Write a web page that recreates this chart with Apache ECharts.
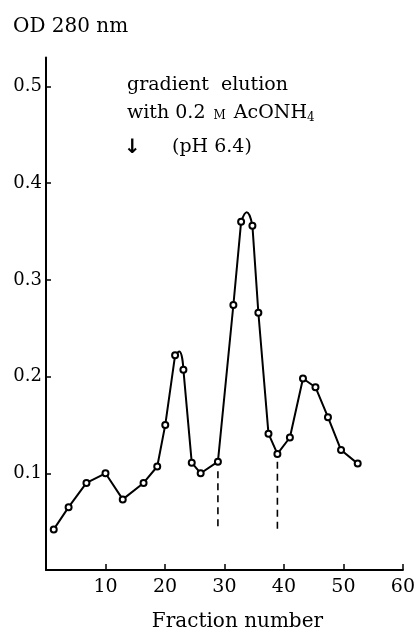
<!DOCTYPE html>
<html>
<head>
<meta charset="utf-8">
<script src="https://cdn.jsdelivr.net/npm/echarts@6/dist/echarts.min.js"></script>
<style>
  html, body { margin: 0; padding: 0; background: #fff; }
  #chart { width: 418px; height: 637px; }
</style>
</head>
<body>
<div id="chart"></div>
<script>
// 数据
var fractions = [1.3, 3.8, 6.8, 10, 12.9, 16.4, 18.7, 20.05, 21.7, 23.1, 24.5, 26, 28.9,
                 31.5, 32.8, 34.7, 35.7, 37.4, 38.9, 41, 43.2, 45.3, 47.4, 49.6, 52.4];
var od280 = [0.042, 0.065, 0.090, 0.100, 0.073, 0.090, 0.107, 0.150, 0.222, 0.207, 0.111, 0.100, 0.112,
             0.274, 0.360, 0.356, 0.266, 0.141, 0.120, 0.137, 0.198, 0.189, 0.158, 0.124, 0.110];
// 两个峰顶的圆弧（在相邻两点之间）
var peakAfter = [8, 14];        // 弧从这个点到下一个点
var peakFrac = [22.4, 33.75];
var peakOd = [0.226, 0.370];
// 分段虚线
var cutFrac = [28.9, 38.9];
var cutTop = [0.102, 0.112];
var cutBottom = 0.041;
// 刻度
var yTicks = [0.1, 0.2, 0.3, 0.4, 0.5];

var chart = echarts.init(document.getElementById('chart'));
var serif = 'DejaVu Serif';

// 主折线，峰顶处断开，由弧线补上
var mainData = [];
for (var i = 0; i < fractions.length; i++) {
    mainData.push([fractions[i], od280[i]]);
    var k = peakAfter.indexOf(i);
    if (k >= 0) mainData.push([peakFrac[k], '-']);
}

var series = [{
    type: 'line',
    data: mainData,
    symbol: 'emptyCircle',
    symbolSize: 6,
    connectNulls: false,
    lineStyle: { color: '#000', width: 2 },
    itemStyle: { color: '#000', borderColor: '#000', borderWidth: 1.4 },
    z: 3
}];
peakAfter.forEach(function (idx, k) {
    series.push({
        type: 'line',
        data: [[fractions[idx], od280[idx]], [peakFrac[k], peakOd[k]], [fractions[idx + 1], od280[idx + 1]]],
        smooth: true,
        symbol: 'none',
        lineStyle: { color: '#000', width: 2 },
        z: 2
    });
});
cutFrac.forEach(function (f, k) {
    series.push({
        type: 'line',
        data: [[f, cutTop[k]], [f, cutBottom]],
        symbol: 'none',
        lineStyle: { color: '#000', width: 1.6, type: [7, 5] },
        z: 1
    });
});

var option = {
    animation: false,
    backgroundColor: '#fff',
    title: {
        text: 'OD 280 nm',
        left: 8,
        top: 12,
        textStyle: { fontFamily: serif, fontSize: 20, fontWeight: 'normal', color: '#000' }
    },
    grid: { left: 46, right: 14, top: 57.4, bottom: 56.3 },
    xAxis: {
        type: 'value',
        min: 0,
        max: 60,
        interval: 10,
        axisLine: { lineStyle: { color: '#000', width: 2 } },
        axisTick: { inside: true, length: 6, lineStyle: { color: '#000', width: 1.5 } },
        axisLabel: { showMinLabel: false, margin: 8, fontFamily: serif, fontSize: 19, color: '#000' },
        splitLine: { show: false },
        name: 'Fraction number',
        nameLocation: 'middle',
        nameGap: 42,
        nameTextStyle: { fontFamily: serif, fontSize: 20, color: '#000', padding: [0, 0, 0, 26] }
    },
    yAxis: {
        type: 'value',
        min: 0,
        max: 0.53,
        axisLine: { show: true, lineStyle: { color: '#000', width: 2 } },
        axisTick: { inside: true, length: 5, customValues: yTicks, lineStyle: { color: '#000', width: 1.5 } },
        axisLabel: { customValues: yTicks, margin: 4, fontFamily: serif, fontSize: 18, color: '#000' },
        splitLine: { show: false }
    },
    graphic: [
        {
            type: 'text', left: 127, top: 76,
            style: { text: 'gradient  elution', font: '19px "DejaVu Serif"', fill: '#000' }
        },
        {
            type: 'text', left: 127, top: 104,
            style: {
                text: '{n|with 0.2 }{s|M}{n| AcONH}{b|4}',
                fill: '#000',
                rich: {
                    n: { fontFamily: serif, fontSize: 19, fill: '#000' },
                    s: { fontFamily: serif, fontSize: 12, fill: '#000', padding: [4, 2, 0, 2] },
                    b: { fontFamily: serif, fontSize: 12, fill: '#000', padding: [9, 0, 0, 0] }
                }
            }
        },
        {
            type: 'text', left: 124, top: 138,
            style: { text: '↓', font: 'bold 20px "DejaVu Sans"', fill: '#000' }
        },
        {
            type: 'text', left: 172, top: 138,
            style: { text: '(pH 6.4)', font: '19px "DejaVu Serif"', fill: '#000' }
        }
    ],
    series: series
};

chart.setOption(option);
</script>
</body>
</html>
